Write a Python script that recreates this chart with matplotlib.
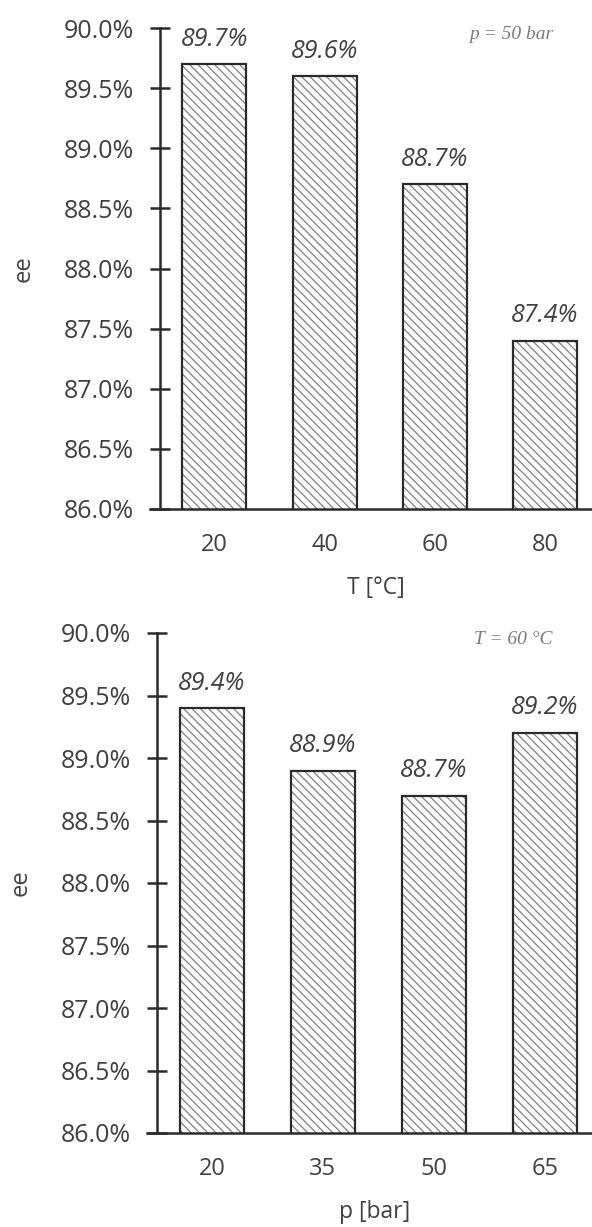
import numpy as np
import matplotlib.pyplot as plt

temps = ["20", "40", "60", "80"]
ee_temp = [89.7, 89.6, 88.7, 87.4]
pressures = ["20", "35", "50", "65"]
ee_press = [89.4, 88.9, 88.7, 89.2]
yticks = np.arange(86.0, 90.01, 0.5)

plt.rcParams["font.family"] = ["Open Sans", "DejaVu Sans"]
plt.rcParams["hatch.linewidth"] = 0.9
text_col = "#404040"
line_col = "#2a2a2a"


def draw_panel(ax, cats, vals, xlabel, note):
    x = np.arange(len(cats))
    # gray hatch fill first, then the dark outline on top
    ax.bar(x, vals, width=0.58, bottom=0, color="white", edgecolor="#808080",
           linewidth=0, hatch="\\\\\\\\")
    ax.bar(x, vals, width=0.58, bottom=0, fill=False, edgecolor=line_col, linewidth=1.6)
    for xi, v in zip(x, vals):
        ax.annotate(f"{v:.1f}%", (xi, v), xytext=(0, 9), textcoords="offset points",
                    ha="center", va="bottom", style="italic", fontsize=18, color=text_col)
    ax.set_ylim(86.0, 90.0)
    ax.set_xlim(-0.494, 3.426)
    ax.set_yticks(yticks)
    ax.set_yticklabels([f"{t:.1f}%" for t in yticks])
    ax.set_xticks(x)
    ax.set_xticklabels(cats)
    for s in ["top", "right"]:
        ax.spines[s].set_visible(False)
    for s in ["left", "bottom"]:
        ax.spines[s].set_color(line_col)
        ax.spines[s].set_linewidth(1.8)
    ax.spines["bottom"].set_bounds(-0.585, 3.426)
    ax.spines["bottom"].set_clip_on(False)
    ax.tick_params(axis="y", direction="inout", length=14, width=1.8, color=line_col,
                   labelsize=18, labelcolor=text_col, pad=12)
    ax.tick_params(axis="x", length=0, labelsize=17, labelcolor=text_col, pad=17)
    ax.set_ylabel("ee", fontsize=17, color=text_col, labelpad=20)
    ax.set_xlabel(xlabel, fontsize=16.5, color=text_col, labelpad=14)
    ax.text(0.91, 0.986, note, transform=ax.transAxes, ha="right", va="center",
            family="Liberation Serif", style="italic", fontsize=14, color="#7a7a7a")


fig = plt.figure(figsize=(5.92, 12.27), dpi=100)
ax1 = fig.add_axes([160 / 592, 1 - 509 / 1227, 432 / 592, 481 / 1227])
ax2 = fig.add_axes([157 / 592, 1 - 1133 / 1227, 435 / 592, 500 / 1227])

draw_panel(ax1, temps, ee_temp, "T [°C]", "p = 50 bar")
draw_panel(ax2, pressures, ee_press, "p [bar]", "T = 60 °C")

fig.savefig("out.png", dpi=100)
